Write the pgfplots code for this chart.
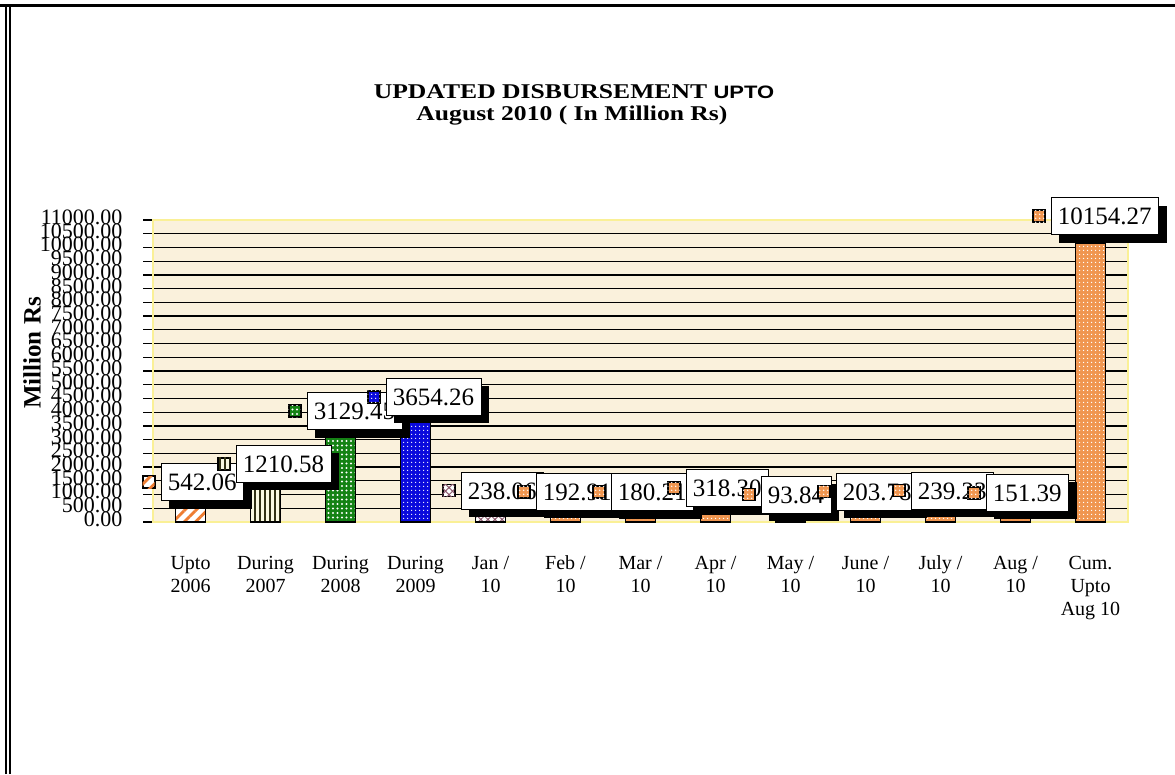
\documentclass[border=0pt]{standalone}
\usepackage{pgfplots}
\pgfplotsset{compat=1.18}
\usepackage{fontspec}
\setmainfont{Liberation Serif}
\newfontfamily\titlefont[FakeStretch=1.22]{Liberation Serif}
\newfontfamily\arialwide[FakeStretch=1.22]{Liberation Sans}
\usetikzlibrary{patterns.meta, shadows}
\definecolor{cOr}{RGB}{238,125,50}
\definecolor{cOrF}{RGB}{240,150,80}
\definecolor{cGr}{RGB}{20,130,20}
\definecolor{cBl}{RGB}{10,10,220}
\definecolor{cOl}{RGB}{50,50,20}
\definecolor{cPk}{RGB}{140,90,110}
\definecolor{cCream}{RGB}{250,250,225}
\definecolor{bgTan}{RGB}{250,241,220}
\definecolor{cYel}{RGB}{250,240,150}
\tikzset{
 sA/.style={fill=white, postaction={pattern={Lines[angle=45,distance=8pt,line width=2.8pt]}, pattern color=cOr}},
 sB/.style={fill=cCream, postaction={pattern={Lines[angle=90,distance=5pt,line width=1.6pt]}, pattern color=cOl}},
 sC/.style={fill=cGr, postaction={pattern={Dots[distance=4.5pt,radius=1.2pt]}, pattern color=white}},
 sD/.style={fill=cBl, postaction={pattern={Dots[distance=4pt,radius=0.8pt]}, pattern color=white}},
 sE/.style={fill=white, postaction={pattern={Hatch[angle=45,distance=5pt,line width=1pt]}, pattern color=cPk}},
 sF/.style={fill=cOrF, postaction={pattern={Dots[distance=4pt,radius=0.9pt]}, pattern color=white}},
 vbox/.style={draw=black, line width=0.8pt, fill=white, text=black, font=\fontsize{25}{25}\selectfont,
   text height=18pt, text depth=1pt, inner xsep=7pt, inner ysep=9pt,
   drop shadow={shadow xshift=8pt, shadow yshift=-8pt, fill=black, opacity=1},
   anchor=south west, xshift=-30pt, yshift=6pt},
 key/.style={draw=black, line width=1.8pt, minimum size=12pt, inner sep=0pt, label distance=5pt},
}
\begin{document}
\begin{tikzpicture}[x=1pt,y=1pt]
\useasboundingbox (0,0) rectangle (1175,774);
\draw[line width=3pt] (0,768.5) -- (1175,768.5);
\draw[line width=2pt] (6,0) -- (6,770);
\draw[line width=1.5pt] (10,0) -- (10,767);
\node[font=\fontsize{21}{23}\selectfont\titlefont\bfseries] at (574,682) {UPDATED DISBURSEMENT {\arialwide\fontsize{18}{20}\selectfont\bfseries UPTO}};
\node[font=\fontsize{21}{23}\selectfont\titlefont\bfseries] at (572,658) {August 2010 ( In Million Rs)};
\node[font=\fontsize{25}{27}\selectfont\bfseries, rotate=90] at (32,421) {Million Rs};
\begin{axis}[
 at={(153pt,252pt)}, anchor=south west,
 scale only axis, width=975pt, height=302pt,
 xmin=-0.5, xmax=12.5, ymin=0, ymax=11000,
 ybar, bar width=30pt, bar shift=0pt,
 clip=false,
 axis background/.style={fill=bgTan},
 axis line style={draw=cYel, line width=1.2pt},
 ytick distance=500, scaled y ticks=false, ytick pos=left,
 ymajorgrids, grid style={black, line width=1.2pt},
 y tick style={black, line width=1.2pt}, major tick length=10pt, tick align=outside,
 xtick={0,...,12},
 xticklabels={{Upto\\2006},{During\\2007},{During\\2008},{During\\2009},{Jan /\\10},{Feb /\\10},{Mar /\\10},{Apr /\\10},{May /\\10},{June /\\10},{July /\\10},{Aug /\\10},{Cum.\\Upto\\Aug 10}},
 x tick style={draw=none},
 typeset ticklabels with strut,
 xticklabel style={align=center, anchor=north, font=\fontsize{20}{23}\selectfont, yshift=-18pt},
 yticklabel style={font=\fontsize{22}{22}\selectfont, xshift=-17pt},
 /pgf/number format/.cd, fixed, fixed zerofill, precision=2, 1000 sep={}, assume math mode=true
]
% bars
\addplot[draw=black, line width=1.5pt, sA] coordinates {(0,542.06)};
\addplot[draw=black, line width=1.5pt, sB] coordinates {(1,1210.58)};
\addplot[draw=black, line width=1.5pt, sC] coordinates {(2,3129.45)};
\addplot[draw=black, line width=1.5pt, sD] coordinates {(3,3654.26)};
\addplot[draw=black, line width=1.5pt, sE] coordinates {(4,238.06)};
\addplot[draw=black, line width=1.5pt, sF] coordinates {(5,192.91) (6,180.21) (7,318.30) (8,93.84) (9,203.78) (10,239.23) (11,151.39) (12,10154.27)};
% labels
\addplot[draw=none, fill=none, nodes near coords, every node near coord/.append style={vbox, label={[key,sA]left:{}}}] coordinates {(0,542.06)};
\addplot[draw=none, fill=none, nodes near coords, every node near coord/.append style={vbox, label={[key,sB]left:{}}}] coordinates {(1,1210.58)};
\addplot[draw=none, fill=none, nodes near coords, every node near coord/.append style={vbox, xshift=-4pt, label={[key,sC]left:{}}}] coordinates {(2,3129.45)};
\addplot[draw=none, fill=none, nodes near coords, every node near coord/.append style={vbox, label={[key,sD]left:{}}}] coordinates {(3,3654.26)};
\addplot[draw=none, fill=none, nodes near coords, every node near coord/.append style={vbox, label={[key,sE]left:{}}}] coordinates {(4,238.06)};
\addplot[draw=none, fill=none, nodes near coords, every node near coord/.append style={vbox, label={[key,sF]left:{}}}] coordinates {(5,192.91) (6,180.21) (7,318.30) (8,93.84) (9,203.78) (10,239.23) (11,151.39)};
\addplot[draw=none, fill=none, nodes near coords, every node near coord/.append style={vbox, xshift=-10pt, yshift=2pt, label={[key,sF]left:{}}}] coordinates {(12,10154.27)};
\end{axis}
\end{tikzpicture}
\end{document}
